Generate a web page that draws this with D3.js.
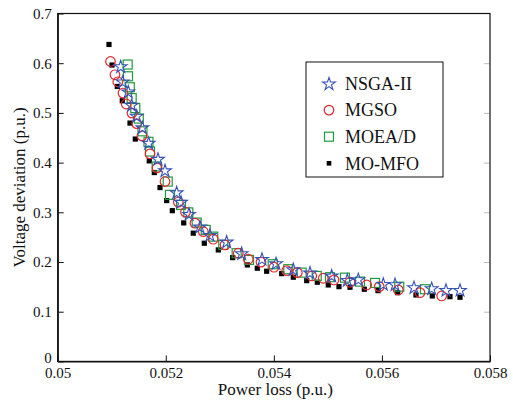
<!DOCTYPE html>
<html lang="en">

<head>
    <meta charset="utf-8" />
    <title>Pareto fronts</title>
    <script src="https://d3js.org/d3.v7.min.js"></script>
    <style>
        body {
            margin: 0;
            background: #fff;
        }

        .axis text {
            font-size: 15px;
            fill: #111;
        }

        .axis path,
        .axis line {
            stroke: #111;
        }
    </style>
</head>

<body>
    <script>
        // series: [power loss, voltage deviation]
        const nsga2 = [
            [0.051166, 0.5938], [0.051203, 0.5632], [0.051306, 0.5431], [0.051369, 0.5163],
            [0.051462, 0.4942], [0.051566, 0.4710], [0.051684, 0.4398], [0.051856, 0.4076],
            [0.051986, 0.3844], [0.052202, 0.3401], [0.052282, 0.3210], [0.052430, 0.2968],
            [0.052633, 0.2712], [0.052818, 0.2545], [0.053127, 0.2410], [0.053405, 0.2177],
            [0.053781, 0.2062], [0.054040, 0.1975], [0.054360, 0.1855], [0.054669, 0.1786],
            [0.055070, 0.1726], [0.055359, 0.1639], [0.055563, 0.1653], [0.056025, 0.1559],
            [0.056242, 0.1553], [0.056593, 0.1492], [0.056921, 0.1472], [0.057186, 0.1438],
            [0.057445, 0.1438]
        ];
        const mgso = [
            [0.050977, 0.6035], [0.051060, 0.5767], [0.051112, 0.5626], [0.051208, 0.5399],
            [0.051268, 0.5179], [0.051375, 0.4996], [0.051462, 0.4785], [0.051560, 0.4539],
            [0.051708, 0.4176], [0.051838, 0.3894], [0.051986, 0.3619], [0.052232, 0.3206],
            [0.052365, 0.3004], [0.052541, 0.2781], [0.052694, 0.2612], [0.052879, 0.2459],
            [0.053096, 0.2344], [0.053342, 0.2177], [0.053527, 0.2056], [0.053762, 0.1998],
            [0.054003, 0.1895], [0.054238, 0.1826], [0.054434, 0.1786], [0.054700, 0.1720],
            [0.054915, 0.1673], [0.055113, 0.1639], [0.055409, 0.1593], [0.055718, 0.1538],
            [0.055951, 0.1504], [0.056303, 0.1438], [0.056704, 0.1383], [0.057106, 0.1317]
        ];
        const moead = [
            [0.051295, 0.5973], [0.051301, 0.5737], [0.051334, 0.5516], [0.051369, 0.5298],
            [0.051436, 0.5097], [0.051501, 0.4885], [0.051569, 0.4629], [0.051680, 0.4418],
            [0.051708, 0.4223], [0.051832, 0.3921], [0.052036, 0.3619], [0.052078, 0.3351],
            [0.052282, 0.3149], [0.052417, 0.2998], [0.052572, 0.2793], [0.052739, 0.2646],
            [0.052879, 0.2511], [0.053064, 0.2344], [0.053312, 0.2177], [0.053540, 0.2042],
            [0.053979, 0.1955], [0.054267, 0.1855], [0.054515, 0.1786], [0.054793, 0.1720],
            [0.055039, 0.1694], [0.055316, 0.1685], [0.055594, 0.1605], [0.055872, 0.1579],
            [0.056321, 0.1504], [0.056797, 0.1452]
        ];
        const momfo = [
            [0.050949, 0.6377], [0.051005, 0.5963], [0.051103, 0.5532], [0.051195, 0.5244],
            [0.051338, 0.4795], [0.051436, 0.4474], [0.051695, 0.4035], [0.051788, 0.3800],
            [0.051893, 0.3498], [0.052017, 0.3236], [0.052121, 0.3033], [0.052332, 0.2787],
            [0.052509, 0.2580], [0.052713, 0.2378], [0.052972, 0.2243], [0.053238, 0.2088],
            [0.053509, 0.1941], [0.053694, 0.1875], [0.053867, 0.1814], [0.054145, 0.1766],
            [0.054360, 0.1694], [0.054608, 0.1625], [0.054804, 0.1593], [0.055007, 0.1538],
            [0.055205, 0.1504], [0.055409, 0.1492], [0.055674, 0.1452], [0.055927, 0.1424],
            [0.056292, 0.1383], [0.056630, 0.1337], [0.056932, 0.1317], [0.057259, 0.1303],
            [0.057445, 0.1291]
        ];

        const xTicks = [0.05, 0.052, 0.054, 0.056, 0.058];
        const yTicks = [0, 0.1, 0.2, 0.3, 0.4, 0.5, 0.6, 0.7];
        const legendNames = ["NSGA-II", "MGSO", "MOEA/D", "MO-MFO"];

        const serif = "Liberation Serif, DejaVu Serif, serif";

        const margin = { top: 13.5, right: 23, bottom: 38.6, left: 57.7 };
        const width = 513 - margin.left - margin.right;
        const height = 400 - margin.top - margin.bottom;

        const svg = d3.select("body").append("svg")
            .attr("width", 513)
            .attr("height", 400)
            .attr("font-family", serif);

        const g = svg.append("g").attr("transform", `translate(${margin.left},${margin.top})`);

        const x = d3.scaleLinear().domain([0.05, 0.058]).range([0, width]);
        const y = d3.scaleLinear().domain([0, 0.7]).range([height, 0]);

        // right-side mirrored ticks (light)
        g.append("g")
            .attr("transform", `translate(${width},0)`)
            .call(d3.axisRight(y).tickValues(yTicks.slice(1, -1)).tickSize(-6).tickFormat(""))
            .call((s) => s.select(".domain").remove())
            .selectAll("line").attr("stroke", "#bbb");

        // frame
        g.append("rect")
            .attr("width", width).attr("height", height)
            .attr("fill", "none").attr("stroke", "#111").attr("stroke-width", 1.2);

        g.append("g").attr("class", "x axis")
            .attr("transform", `translate(0,${height})`)
            .call(d3.axisBottom(x).tickValues(xTicks).tickSize(-6).tickSizeOuter(0).tickPadding(6)
                .tickFormat((d) => String(+d.toFixed(3))))
            .call((s) => s.select(".domain").attr("stroke-width", 1.3))
            .attr("font-family", serif);

        g.append("g").attr("class", "y axis")
            .call(d3.axisLeft(y).tickValues(yTicks).tickSize(-6).tickSizeOuter(0).tickPadding(6)
                .tickFormat((d) => String(+d.toFixed(1))))
            .call((s) => s.select(".domain").attr("stroke-width", 1.3))
            .attr("font-family", serif)
            .selectAll("text").filter((d) => d === 0).attr("dy", "0.1em");

        // axis titles
        svg.append("text")
            .attr("x", margin.left + width / 2 + 1.5)
            .attr("y", 395)
            .attr("text-anchor", "middle")
            .attr("font-size", 17)
            .attr("fill", "#111")
            .text("Power loss (p.u.)");

        svg.append("text")
            .attr("transform", `translate(25,${margin.top + height / 2}) rotate(-90)`)
            .attr("text-anchor", "middle")
            .attr("font-size", 17)
            .attr("fill", "#111")
            .text("Voltage deviation (p.u.)");

        const blue = "#3452b8", red = "#e8262c", green = "#1f9a3c";
        const star = d3.symbol().type(d3.symbolStar).size(50);

        // MO-MFO (black squares) drawn first
        g.selectAll(".mfo").data(momfo).join("rect")
            .attr("class", "mfo")
            .attr("x", (d) => x(d[0]) - 2.6).attr("y", (d) => y(d[1]) - 2.6)
            .attr("width", 5.2).attr("height", 5.2)
            .attr("fill", "#000");

        g.selectAll(".moead").data(moead).join("rect")
            .attr("class", "moead")
            .attr("x", (d) => x(d[0]) - 4.5).attr("y", (d) => y(d[1]) - 4.5)
            .attr("width", 9).attr("height", 9)
            .attr("fill", "none").attr("stroke", green).attr("stroke-width", 1.2);

        g.selectAll(".mgso").data(mgso).join("circle")
            .attr("class", "mgso")
            .attr("cx", (d) => x(d[0])).attr("cy", (d) => y(d[1]))
            .attr("r", 4.8)
            .attr("fill", "none").attr("stroke", red).attr("stroke-width", 1.2);

        g.selectAll(".nsga").data(nsga2).join("path")
            .attr("class", "nsga")
            .attr("transform", (d) => `translate(${x(d[0])},${y(d[1]) + 0.6})`)
            .attr("d", star)
            .attr("fill", "none").attr("stroke", blue).attr("stroke-width", 1.1);

        // legend
        const lg = svg.append("g");
        lg.append("rect")
            .attr("x", 306).attr("y", 62).attr("width", 137).attr("height", 115)
            .attr("fill", "#fff").attr("stroke", "#111").attr("stroke-width", 1);

        const rows = lg.selectAll(".row").data(legendNames).join("g")
            .attr("class", "row")
            .attr("transform", (d, i) => `translate(329,${83.5 + i * 26.6})`);

        rows.append("text")
            .attr("x", 16).attr("dy", "0.35em")
            .attr("font-size", 18).attr("fill", "#111")
            .text((d) => d);

        rows.filter((d, i) => i === 0).append("path")
            .attr("d", star).attr("transform", "translate(0,0.6)")
            .attr("fill", "none").attr("stroke", blue).attr("stroke-width", 1.1);
        rows.filter((d, i) => i === 1).append("circle")
            .attr("r", 4.8).attr("fill", "none").attr("stroke", red).attr("stroke-width", 1.2);
        rows.filter((d, i) => i === 2).append("rect")
            .attr("x", -4.5).attr("y", -4.5).attr("width", 9).attr("height", 9)
            .attr("fill", "none").attr("stroke", green).attr("stroke-width", 1.2);
        rows.filter((d, i) => i === 3).append("rect")
            .attr("x", -2.3).attr("y", -2.3).attr("width", 4.6).attr("height", 4.6)
            .attr("fill", "#000");
    </script>
</body>

</html>
